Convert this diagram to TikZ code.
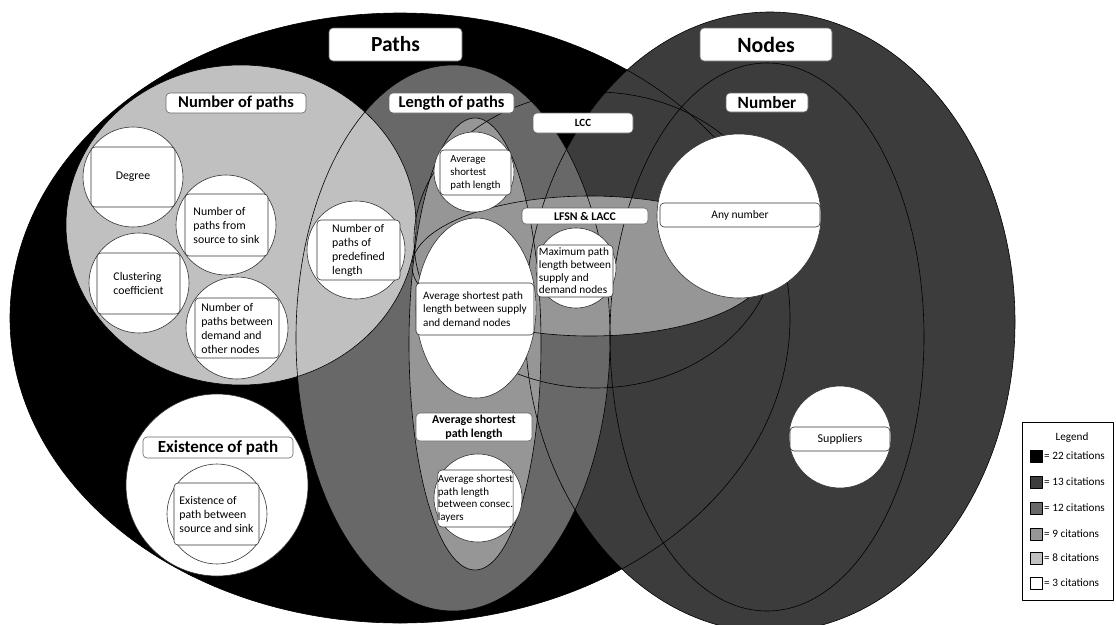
\documentclass[tikz,border=0pt]{standalone}
\usepackage{fontspec}
\setmainfont{Carlito}
\begin{document}
\begin{tikzpicture}[x=1pt,y=-1pt,line join=round]
\definecolor{cNodes}{HTML}{3C3C3C}
\definecolor{cLen}{HTML}{686868}
\definecolor{cMid}{HTML}{969696}
\definecolor{cLight}{HTML}{C0C0C0}
\tikzset{
  outl/.style={draw=black,line width=0.6pt},
  wc/.style={circle,draw=black!80,fill=white,line width=0.6pt,inner sep=0pt},
  bx/.style={draw=black!80,fill=white,rounded corners=4pt,line width=0.6pt,inner sep=0pt,align=left,font=\fontsize{11.8}{14}\selectfont},
  hd/.style={draw=black!60,fill=white,rounded corners=4pt,line width=0.6pt,inner sep=0pt,align=center},
  lgs/.style={draw=black,line width=0.5pt,minimum size=12pt,inner sep=0pt},
  lgt/.style={anchor=west,inner sep=0pt,font=\fontsize{11.2}{13}\selectfont}
}
\useasboundingbox (0,0) rectangle (1116,624);
% ---- fills
\fill[black] (400,318) ellipse [x radius=390pt,y radius=305pt];
\fill[cNodes] (770,322) ellipse [x radius=245pt,y radius=310pt];
\fill[cLen] (453,338) ellipse [x radius=157pt,y radius=273pt];
\fill[cLight] (241,225) ellipse [x radius=175pt,y radius=160pt];
\fill[cMid] (475,344) ellipse [x radius=66pt,y radius=226pt];
\fill[cMid] (590,266) ellipse [x radius=178pt,y radius=70pt];
% ---- outlines
\draw[outl] (400,318) ellipse [x radius=390pt,y radius=305pt];
\draw[outl] (770,322) ellipse [x radius=245pt,y radius=310pt];
\draw[outl] (767,337) ellipse [x radius=157pt,y radius=274pt];
\draw[outl] (453,338) ellipse [x radius=157pt,y radius=273pt];
\draw[outl] (241,225) ellipse [x radius=175pt,y radius=160pt];
\draw[outl] (475,344) ellipse [x radius=66pt,y radius=226pt];
\draw[outl] (590,266) ellipse [x radius=178pt,y radius=70pt];
\draw[outl] (595,240) ellipse [x radius=181pt,y radius=148pt];
% ---- white circles
\node[wc,minimum size=100pt] (cDeg) at (133,177) {};
\node[wc,minimum size=100pt] (cNpss) at (226,225) {};
\node[wc,minimum size=100pt] (cClu) at (139,283) {};
\node[wc,minimum size=102pt] (cNpdo) at (237,328) {};
\node[wc,minimum size=98pt] (cNppl) at (356,250) {};
\node[wc,minimum size=80pt] (cAspl) at (474,172) {};
\draw[draw=black!80,fill=white,line width=0.6pt] (476,308) ellipse [x radius=60pt,y radius=90pt];
\node[wc,minimum size=80pt] (cMax) at (576,268) {};
\node[wc,minimum size=88pt] (cCons) at (478,498) {};
\node[wc,minimum size=164pt] (cAny) at (739,216) {};
\node[wc,minimum size=102pt] (cSup) at (840,437) {};
\node[wc,minimum size=182pt] (cEx) at (217,485) {};
\node[wc,minimum size=100pt] (cEx2) at (217,514) {};
% ---- headings
\node[hd,minimum width=133pt,minimum height=33pt,font=\bfseries\fontsize{21.5}{24}\selectfont] (hPaths) at (395.5,44.5) {Paths};
\node[hd,minimum width=132pt,minimum height=33pt,font=\bfseries\fontsize{21.8}{24}\selectfont] (hNodes) at (766,44.5) {Nodes};
\node[hd,minimum width=140pt,minimum height=20pt,font=\bfseries\fontsize{16.5}{18}\selectfont] (hNop) at (236,103) {Number of paths};
\node[hd,minimum width=125pt,minimum height=20pt,font=\bfseries\fontsize{16.5}{18}\selectfont] (hLop) at (451.5,103) {Length of paths};
\node[hd,minimum width=82pt,minimum height=19pt,font=\bfseries\fontsize{17.2}{18}\selectfont] (hNum) at (767,102.5) {Number};
\node[hd,minimum width=100pt,minimum height=20pt,font=\bfseries\fontsize{11}{13}\selectfont] (hLcc) at (583,123) {LCC};
\node[hd,minimum width=126pt,minimum height=16pt,font=\bfseries\fontsize{11.8}{13}\selectfont] (hLfsn) at (585,216) {LFSN \& LACC};
\node[hd,minimum width=116pt,minimum height=28pt,font=\bfseries\fontsize{12}{14}\selectfont] (hAspl) at (474,427) {Average shortest\\path length};
\node[hd,minimum width=150pt,minimum height=21pt,font=\bfseries\fontsize{17}{19}\selectfont] (hEx) at (218,447.5) {Existence of path};
% ---- text boxes
\node[bx,align=center,minimum width=84pt,minimum height=60pt] (tDeg) at (133,177) {Degree};
\node[bx,minimum width=83pt,minimum height=62pt] (tNpss) at (226.5,225) {Number of\\paths from\\source to sink};
\node[bx,minimum width=83pt,minimum height=61pt] (tClu) at (138.5,283.5) {Clustering\\coefficient};
\node[bx,minimum width=84pt,minimum height=60pt] (tNpdo) at (237,328) {Number of\\paths between\\demand and\\other nodes};
\node[bx,minimum width=83pt,minimum height=60pt] (tNppl) at (358.5,250) {Number of\\paths of\\predefined\\length};
\node[bx,minimum width=71pt,minimum height=45pt,font=\fontsize{10.8}{13}\selectfont] (tAspl) at (475.5,172.5) {Average\\shortest\\path length};
\node[bx,minimum width=118pt,minimum height=52pt,font=\fontsize{11.2}{13.3}\selectfont] (tAsplsd) at (475,309) {Average shortest path\\length between supply\\and demand nodes};
\node[bx,minimum width=76pt,minimum height=52pt,font=\fontsize{11.3}{12.7}\selectfont] (tMax) at (575,271) {Maximum path\\length between\\supply and\\demand nodes};
\node[bx,minimum width=73pt,minimum height=57pt,font=\fontsize{11}{12.7}\selectfont] (tCons) at (475.5,498.5) {Average shortest\\path length\\between consec.\\layers};
\node[bx,align=center,minimum width=160pt,minimum height=24pt,font=\fontsize{11.5}{13}\selectfont] (tAny) at (740,215) {Any number};
\node[bx,align=center,minimum width=100pt,minimum height=24pt,font=\fontsize{12}{13}\selectfont] (tSup) at (840,439) {Suppliers};
\node[bx,minimum width=85pt,minimum height=62pt] (tEx) at (216.5,514) {Existence of\\path between\\source and sink};
% ---- legend
\node[draw=black,line width=0.8pt,fill=white,minimum width=91pt,minimum height=178pt,inner sep=0pt] (legend) at (1068,511) {};
\node[inner sep=0pt,font=\fontsize{11.2}{13}\selectfont] (lgTitle) at (1072,438) {Legend};
\node[lgs,fill=black] (s1) at (1036,456) {};
\node[lgs,fill=cNodes] (s2) at (1036,482) {};
\node[lgs,fill=cLen] (s3) at (1036,508) {};
\node[lgs,fill=cMid] (s4) at (1036,534) {};
\node[lgs,fill=cLight] (s5) at (1036,558) {};
\node[lgs,fill=white] (s6) at (1036,583) {};
\node[lgt] (l1) at (1044,456) {= 22 citations};
\node[lgt] (l2) at (1044,482) {= 13 citations};
\node[lgt] (l3) at (1044,508) {= 12 citations};
\node[lgt] (l4) at (1044,534) {= 9 citations};
\node[lgt] (l5) at (1044,558) {= 8 citations};
\node[lgt] (l6) at (1044,583) {= 3 citations};
\end{tikzpicture}
\end{document}
